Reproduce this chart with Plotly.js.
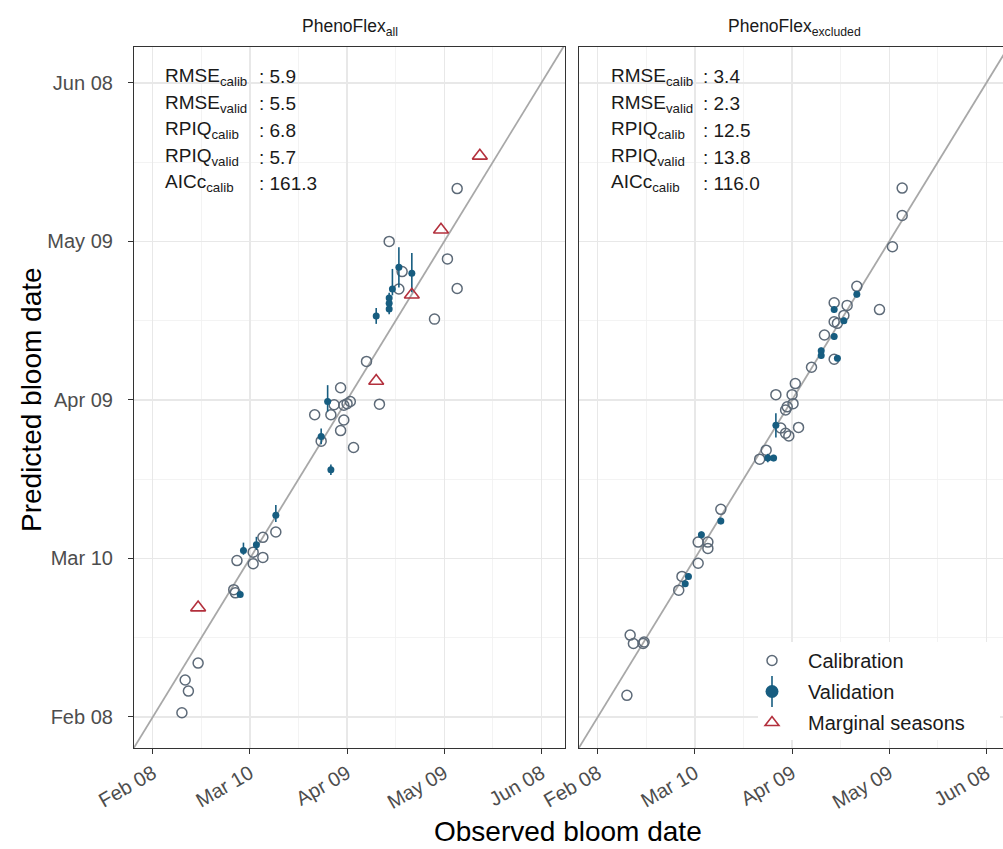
<!DOCTYPE html>
<html><head><meta charset="utf-8">
<script src="https://cdn.plot.ly/plotly-3.0.1.min.js"></script>
<style>html,body{margin:0;padding:0;overflow:hidden;background:#fff}#chart{width:1012px;height:849px}</style>
</head><body><div id="chart"></div>
<script>
// All dates as day-of-year (non-leap year); Feb 08 = 39
const tickDoy = [39, 69, 99, 129, 159];
const tickText = ['Feb 08', 'Mar 10', 'Apr 09', 'May 09', 'Jun 08'];

// Panel 1: PhenoFlex_all
const allCalObs  = [133,112,130,116,115,133,126,105,97,95,98,99,100,109,89,94,98,97,91,101,77,73,70,73,65,70,64,64.5,53,49,50,48];
const allCalPred = [139,129,125.7,123.3,120,120.1,114.3,106.3,101.3,98.1,98,98.3,98.7,98.2,96.2,96.2,95.2,93.2,91.2,90,74,73,70.2,69.2,68.6,68,63.1,62.5,49.2,46,43.9,39.8];
const allValObs  = [115,119,113,112,112,112,108,93,91,94,77,71,67,66];
const allValPred = [124.1,123,120,118.3,117.3,116.2,114.9,98.7,92.1,85.8,77.2,71.6,70.5,62.2];
const allValErrHi = [3.8,3.8,3.8,1.0,1.0,1.0,1.5,3.1,1.5,1.0,1.9,1.5,1.5,0.5];
const allValErrLo = [3.8,3.6,1.2,1.0,1.0,1.0,1.5,1.9,1.5,1.0,1.3,1.0,0.8,0.5];
const allMargObs  = [140,128,119,108,53];
const allMargPred = [145.2,131.2,118.9,102.6,59.7];

// Panel 2: PhenoFlex_excluded
const exCalObs  = [133,133,130,119,126,112,116,115,112,113,109,112,105,100,99,94,99.3,97.5,97,95.5,101,97,98,91,89,77,70,73,73,70,65,64,49,50,53,53.3,48];
const exCalPred = [139.1,133.9,128,120.5,116.1,117.4,116.9,115,113.8,113.5,111.3,106.7,105.2,102.1,100,100,98.3,97.7,97.1,93.7,93.8,92.7,92.2,89.5,87.8,78.3,72.1,72.1,70.9,68.1,65.6,63,54.5,52.9,52.9,53.2,43.1];
const exValObs  = [119,112,115,112,108,108,113,94,91.5,93.3,77,71,67,66];
const exValPred = [119,116.1,114,111,108.3,107.4,106.9,94.2,88,88,76.1,73.5,65.6,64.2];
const exValErr  = [0.6,0.6,0.6,0.6,0.6,0.6,0.6,2.3,0.8,0.6,0.6,0.6,0.6,0.6];

const statLabels = ['RMSE<sub>calib</sub>','RMSE<sub>valid</sub>','RPIQ<sub>calib</sub>','RPIQ<sub>valid</sub>','AICc<sub>calib</sub>'];
const allStats = ['5.9','5.5','6.8','5.7','161.3'];
const exStats  = ['3.4','2.3','12.5','13.8','116.0'];
const panelTitles = ['PhenoFlex<sub>all</sub>','PhenoFlex<sub>excluded</sub>'];
const legendNames = ['Calibration','Validation','Marginal seasons'];
const oneToOne = [20, 180];

const C_CAL = '#5d6a78', C_VAL = '#175d80', C_MAR = '#b3303d';
const FONT = 'Liberation Sans, Arial, sans-serif';

function panelTraces(xa, ya, calX, calY, valX, valY, errHi, errLo, marX, marY) {
  const t = [];
  t.push({x: oneToOne, y: oneToOne, xaxis: xa, yaxis: ya, mode: 'lines',
          line: {color: '#a8a8a8', width: 1.8}, showlegend: false, hoverinfo: 'skip'});
  t.push({x: calX, y: calY, xaxis: xa, yaxis: ya, mode: 'markers', showlegend: false,
          marker: {symbol: 'circle-open', size: 10, color: C_CAL, line: {width: 1.5, color: C_CAL}}});
  t.push({x: valX, y: valY, xaxis: xa, yaxis: ya, mode: 'markers', showlegend: false,
          marker: {symbol: 'circle', size: 7, color: C_VAL},
          error_y: {type: 'data', symmetric: false, array: errHi, arrayminus: errLo, color: C_VAL, thickness: 1.6, width: 0}});
  if (marX) t.push({x: marX, y: marY, xaxis: xa, yaxis: ya, mode: 'markers', showlegend: false,
          marker: {symbol: 'triangle-up-open', size: 13, color: C_MAR, line: {width: 1.6, color: C_MAR}}});
  return t;
}

const traces = [].concat(
  panelTraces('x', 'y', allCalObs, allCalPred, allValObs, allValPred, allValErrHi, allValErrLo, allMargObs, allMargPred),
  panelTraces('x2', 'y2', exCalObs, exCalPred, exValObs, exValPred, exValErr, exValErr, null, null)
);
// legend entries
traces.push({x: [null], y: [null], xaxis: 'x2', yaxis: 'y2', mode: 'markers', name: legendNames[0], legendgroup: 'a',
  marker: {symbol: 'circle-open', size: 10, color: C_CAL, line: {width: 1.5, color: C_CAL}}});
traces.push({x: [null], y: [null], xaxis: 'x2', yaxis: 'y2', mode: 'markers', name: legendNames[1], legendgroup: 'b',
  marker: {symbol: 'circle', size: 13, color: C_VAL}});
traces.push({x: [null], y: [null], xaxis: 'x2', yaxis: 'y2', mode: 'markers', name: legendNames[2], legendgroup: 'c',
  marker: {symbol: 'triangle-up-open', size: 12, color: C_MAR, line: {width: 1.6, color: C_MAR}}});

// pixel helpers (plot area: left 134, right 1010, top 47, bottom 748)
const L = 134, R = 1010, T = 47, B = 748, W = R - L, H = B - T;
const PX = p => (p - L) / W, PY = p => (B - p) / H;

const xr = [33.2, 166.3];
const yr = [33.13, 165.8];

function common() {
  return {tickmode: 'array', tickvals: tickDoy, ticktext: tickText,
    ticklen: 5, tickwidth: 1, tickcolor: '#333',
    tickfont: {family: FONT, size: 20, color: '#4d4d4d'},
    showline: true, mirror: true, linecolor: '#333', linewidth: 1.1,
    showgrid: true, gridcolor: '#e8e8e8', gridwidth: 1.2, zeroline: false,
    minor: {tickmode: 'linear', tick0: 39, dtick: 15, showgrid: true, gridcolor: '#f0f0f0', gridwidth: 0.8, ticks: ''}};
}
function xAxis(dom, anchor) {
  return Object.assign(common(), {domain: dom, anchor: anchor, range: xr, autorange: false,
    tickangle: -30, ticks: 'outside'});
}
function yAxis(anchor, labels) {
  return Object.assign(common(), {domain: [0, 1], anchor: anchor, range: yr, autorange: false,
    ticks: labels ? 'outside' : '', showticklabels: labels, ticklabelstandoff: 11});
}

const annotations = [];
const rowsY = [77, 104, 130, 157, 183];
[[163, 257, allStats], [609, 701, exStats]].forEach(([lx, cx, vals]) => {
  statLabels.forEach((lab, i) => {
    annotations.push({xref: 'paper', yref: 'paper', x: PX(lx), y: PY(rowsY[i]), xanchor: 'left', yanchor: 'middle',
      text: lab, showarrow: false, font: {family: FONT, size: 19, color: '#1a1a1a'}});
    annotations.push({xref: 'paper', yref: 'paper', x: PX(cx), y: PY(rowsY[i]), xanchor: 'left', yanchor: 'middle',
      text: ': ' + vals[i], showarrow: false, font: {family: FONT, size: 19, color: '#1a1a1a'}});
  });
});
annotations.push({xref: 'paper', yref: 'paper', x: PX(349.5), y: PY(27), xanchor: 'center', yanchor: 'middle',
  text: panelTitles[0], showarrow: false, font: {family: FONT, size: 17.5, color: '#1a1a1a'}});
annotations.push({xref: 'paper', yref: 'paper', x: PX(794.5), y: PY(27), xanchor: 'center', yanchor: 'middle',
  text: panelTitles[1], showarrow: false, font: {family: FONT, size: 17.5, color: '#1a1a1a'}});
annotations.push({xref: 'paper', yref: 'paper', x: PX(568), y: PY(831), xanchor: 'center', yanchor: 'middle',
  text: 'Observed bloom date', showarrow: false, font: {family: FONT, size: 28, color: '#000'}});
annotations.push({xref: 'paper', yref: 'paper', x: PX(31), y: PY(400), xanchor: 'center', yanchor: 'middle',
  text: 'Predicted bloom date', textangle: -90, showarrow: false, font: {family: FONT, size: 28, color: '#000'}});

const shapes = [
  {type: 'rect', xref: 'paper', yref: 'paper', x0: PX(758), x1: PX(1000), y0: PY(740), y1: PY(642),
   fillcolor: '#fff', line: {width: 0}, layer: 'above'},
  {type: 'line', xref: 'paper', yref: 'paper', x0: PX(772), x1: PX(772), y0: PY(676), y1: PY(707),
   line: {color: C_VAL, width: 1.6}, layer: 'above'}
];

const layout = {
  width: 1012, height: 849, paper_bgcolor: '#fff', plot_bgcolor: '#fff',
  margin: {l: L, r: 1012 - R, t: T, b: 849 - B},
  font: {family: FONT},
  showlegend: true,
  legend: {x: PX(736), y: PY(641), xanchor: 'left', yanchor: 'top', bgcolor: 'rgba(0,0,0,0)',
    font: {family: FONT, size: 20, color: '#1a1a1a'}, traceorder: 'grouped', tracegroupgap: 2, itemwidth: 62},
  xaxis: xAxis([0, (565 - L) / W], 'y'),
  xaxis2: xAxis([(579 - L) / W, 1], 'y2'),
  yaxis: yAxis('x', true),
  yaxis2: yAxis('x2', false),
  annotations: annotations,
  shapes: shapes
};
layout.yaxis2.matches = 'y';

Plotly.newPlot('chart', traces, layout, {displayModeBar: false, staticPlot: true});
</script>
</body></html>
